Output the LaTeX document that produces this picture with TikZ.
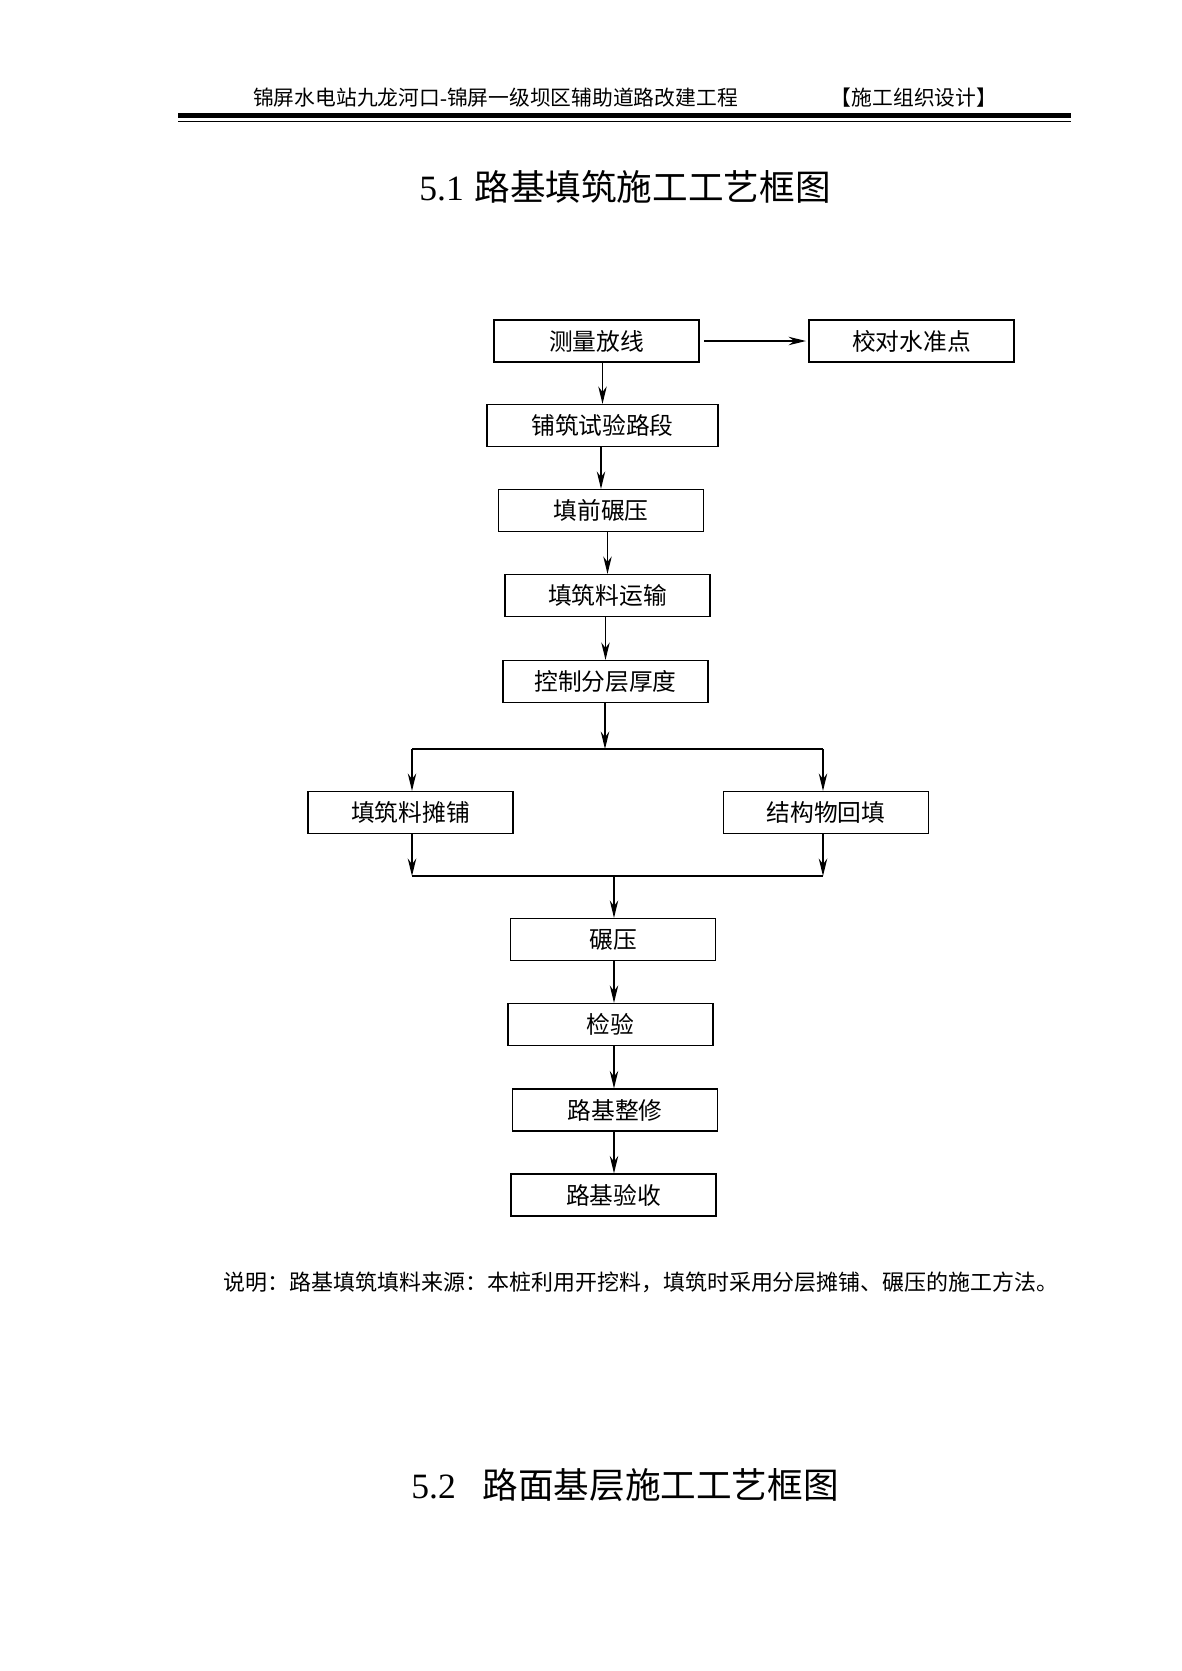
\documentclass[tikz,border=0pt]{standalone}
\usepackage{fontspec}
\setmainfont{Noto Sans CJK SC}
\newfontfamily\tnr{Liberation Serif}
\usetikzlibrary{arrows.meta}

\begin{document}
\begin{tikzpicture}
  [x=0.17766mm, y=-0.17766mm,
    font=\fontsize{12}{14}\selectfont,
    box/.style={draw, line width=0.8pt, minimum width=36.4mm,
      minimum height=7.4mm, inner sep=0pt},
    arr/.style={-{Stealth[length=3.1mm,width=1.5mm,inset=1mm]}, line width=0.7pt},
    link/.style={line width=0.7pt}]

  \fill[white] (0,0) rectangle (1182,1671);
  \useasboundingbox (0,0) rectangle (1182,1671);

  % header
  \node[font=\fontsize{10.5}{12}\selectfont] (head) at (495.5,98)
    {锦屏水电站九龙河口{\tnr -}锦屏一级坝区辅助道路改建工程};
  \node[font=\fontsize{10.5}{12}\selectfont] (headr) at (914,98) {【施工组织设计】};
  \draw[line width=0.9mm] (178,115.5) -- (1071,115.5);
  \draw[line width=0.25mm] (178,121.5) -- (1071,121.5);

  \node[font=\fontsize{18}{22}\selectfont] (title) at (625,187)
    {{\tnr 5.1}\hspace{0.3em}路基填筑施工工艺框图};

  \node[box] (cl) at (596.5,341) {测量放线};
  \node[box] (jd) at (911.5,341) {校对水准点};
  \node[box, minimum width=41mm] (sy) at (602.5,425.5) {铺筑试验路段};
  \node[box] (tq) at (601,510.5) {填前碾压};
  \node[box] (ys) at (607.5,595.5) {填筑料运输};
  \node[box] (kz) at (605.5,681.5) {控制分层厚度};
  \node[box] (tp) at (410.5,812.5) {填筑料摊铺};
  \node[box] (jg) at (826,812.5) {结构物回填};
  \node[box] (ny) at (613,939.5) {碾压};
  \node[box] (jy) at (610.5,1024.5) {检验};
  \node[box] (zx) at (615,1110) {路基整修};
  \node[box] (ysh) at (613.5,1195) {路基验收};

  \coordinate (split) at (605,749);
  \coordinate (sl) at (412,749);
  \coordinate (sr) at (823,749);
  \coordinate (ml) at (412,876);
  \coordinate (mr) at (823,876);
  \coordinate (mm) at (614,876);

  \draw[arr, shorten <=0.8mm, shorten >=0.4mm] (cl.east) -- (jd.west);
  \draw[arr] (cl.south -| sy) -- (sy.north);
  \draw[arr] (sy.south -| tq) -- (tq.north);
  \draw[arr] (tq.south -| ys) -- (ys.north);
  \draw[arr] (ys.south -| kz) -- (kz.north);
  \draw[arr] (kz.south -| split) -- (split);
  \draw[link] (sl) -- (sr);
  \draw[arr] (sl) -- (sl |- tp.north);
  \draw[arr] (sr) -- (sr |- jg.north);
  \draw[arr] (ml |- tp.south) -- (ml);
  \draw[arr] (mr |- jg.south) -- (mr);
  \draw[link] (ml) -- (mr);
  \draw[arr] (mm) -- (mm |- ny.north);
  \draw[arr] (ny.south -| mm) -- (mm |- jy.north);
  \draw[arr] (jy.south -| mm) -- (mm |- zx.north);
  \draw[arr] (zx.south -| mm) -- (mm |- ysh.north);

  \node[font=\fontsize{11.1}{13}\selectfont, anchor=west] (note) at (217,1282)
    {说明：路基填筑填料来源：本桩利用开挖料，填筑时采用分层摊铺、碾压的施工方法。};

  \node[font=\fontsize{18}{22}\selectfont] (title2) at (625,1485)
    {{\tnr 5.2}\hspace{0.75em}路面基层施工工艺框图};
\end{tikzpicture}
\end{document}
